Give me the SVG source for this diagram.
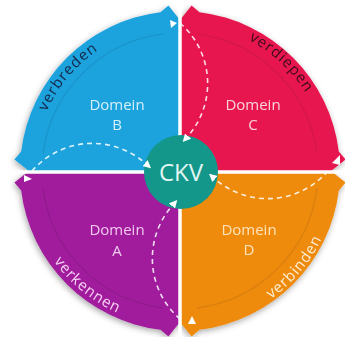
<svg xmlns="http://www.w3.org/2000/svg" width="345" height="337" viewBox="0 0 345 337">
<style>
.lbl{font-family:"Open Sans","Noto Sans",sans-serif;font-size:15px;text-anchor:middle}
.arc{font-family:"Open Sans","Noto Sans",sans-serif;font-size:15px;letter-spacing:1px}
.edge{fill:none;stroke:#000;stroke-opacity:0.08;stroke-width:1.5}
.dash{fill:none;stroke:#fff;stroke-opacity:0.85;stroke-width:1.6;stroke-dasharray:5 4;marker-end:url(#head)}
.tri{fill:#fff}
.div{stroke:#fff;stroke-width:3.5}
</style>
<defs>
<filter id="sh" x="-10%" y="-10%" width="120%" height="120%">
<feDropShadow dx="-1" dy="2" stdDeviation="3" flood-color="#000" flood-opacity="0.35"/>
</filter>
<marker id="head" viewBox="0 0 8 8" refX="0" refY="4" markerWidth="8" markerHeight="8" markerUnits="userSpaceOnUse" orient="auto">
<path d="M0,0 L8,4 L0,8 Z" fill="#fff"/>
</marker>
<path id="tpB" d="M36.22 145.65 A146 146 0 0 1 130.07 33.81"/>
<path id="tpC" d="M213.3 26.79 A148 148 0 0 1 321.53 127.73"/>
<path id="tpA" d="M35.29 226.55 A155 155 0 0 0 155.75 324.09"/>
<path id="tpD" d="M233.7 318.53 A157 157 0 0 0 334.61 198.26"/>
</defs>
<rect width="345" height="337" fill="#fff"/>
<g filter="url(#sh)">
<g id="domein-b">
<path fill="#1ca3de" d="M180 171 L29 171 L14.41 159.42 L21.19 151.5 A160 160 0 0 1 160.5 12.19 L168.42 5.41 L180 20 Z"/>
<path class="edge" d="M43.03 154.18 A138 138 0 0 1 163.18 34.03"/>
<text class="lbl" fill="#d6f0fb"><tspan x="117" y="110">Domein</tspan><tspan x="117" y="130">B</tspan></text>
<text class="arc" fill="#17284a"><textPath href="#tpB" startOffset="50%" text-anchor="middle">verbreden</textPath></text>
</g>
<g id="domein-c">
<path fill="#e8194f" d="M180 171 L180 20 L191.58 5.41 L199.5 12.19 A160 160 0 0 1 338.81 151.5 L345.59 159.42 L331 171 Z"/>
<path class="edge" d="M196.82 34.03 A138 138 0 0 1 316.97 154.18"/>
<text class="lbl" fill="#f9d2dc"><tspan x="253" y="110">Domein</tspan><tspan x="253" y="130">C</tspan></text>
<text class="arc" fill="#3b0a1c"><textPath href="#tpC" startOffset="50%" text-anchor="middle">verdiepen</textPath></text>
</g>
<g id="domein-d">
<path fill="#ee8b10" d="M180 171 L331 171 L345.59 182.58 L338.81 190.5 A160 160 0 0 1 199.5 329.81 L191.58 336.59 L180 322 Z"/>
<path class="edge" d="M316.97 187.82 A138 138 0 0 1 196.82 307.97"/>
<text class="lbl" fill="#fce3b8"><tspan x="249" y="235">Domein</tspan><tspan x="249" y="255">D</tspan></text>
<text class="arc" fill="#fff0d8"><textPath href="#tpD" startOffset="50%" text-anchor="middle">verbinden</textPath></text>
</g>
<g id="domein-a">
<path fill="#a01c9c" d="M180 171 L180 322 L168.42 336.59 L160.5 329.81 A160 160 0 0 1 21.19 190.5 L14.41 182.58 L29 171 Z"/>
<path class="edge" d="M163.18 307.97 A138 138 0 0 1 43.03 187.82"/>
<text class="lbl" fill="#f0c8ee"><tspan x="117" y="235">Domein</tspan><tspan x="117" y="256">A</tspan></text>
<text class="arc" fill="#f6d0f3"><textPath href="#tpA" startOffset="50%" text-anchor="middle">verkennen</textPath></text>
</g>
</g>
<g id="dividers">
<line class="div" x1="180" y1="0" x2="180" y2="337"/>
<line class="div" x1="0" y1="172" x2="345" y2="172"/>
</g>
<g id="band-tips">
<polygon class="tri" points="170,20 177,23 171,28"/>
<polygon class="tri" points="24,175 24,182 32,179"/>
<polygon class="tri" points="332,163 340,155 340,165"/>
<polygon class="tri" points="188,324 196,324 192,316"/>
</g>
<g id="ckv">
<circle cx="181" cy="172" r="37" fill="#13978b"/>
<text x="181" y="180.5" font-family="Open Sans, Noto Sans, sans-serif" font-size="24" text-anchor="middle" fill="#e2f6f2">CKV</text>
</g>
<g id="connectors">
<path class="dash" d="M32 171 A80 80 0 0 1 145 163"/>
<path class="dash" d="M180 23 A80 80 0 0 1 188 136"/>
<path class="dash" d="M328 171 A80 80 0 0 1 215 179"/>
<path class="dash" d="M180 319 A80 80 0 0 1 172 206"/>
</g>
</svg>
